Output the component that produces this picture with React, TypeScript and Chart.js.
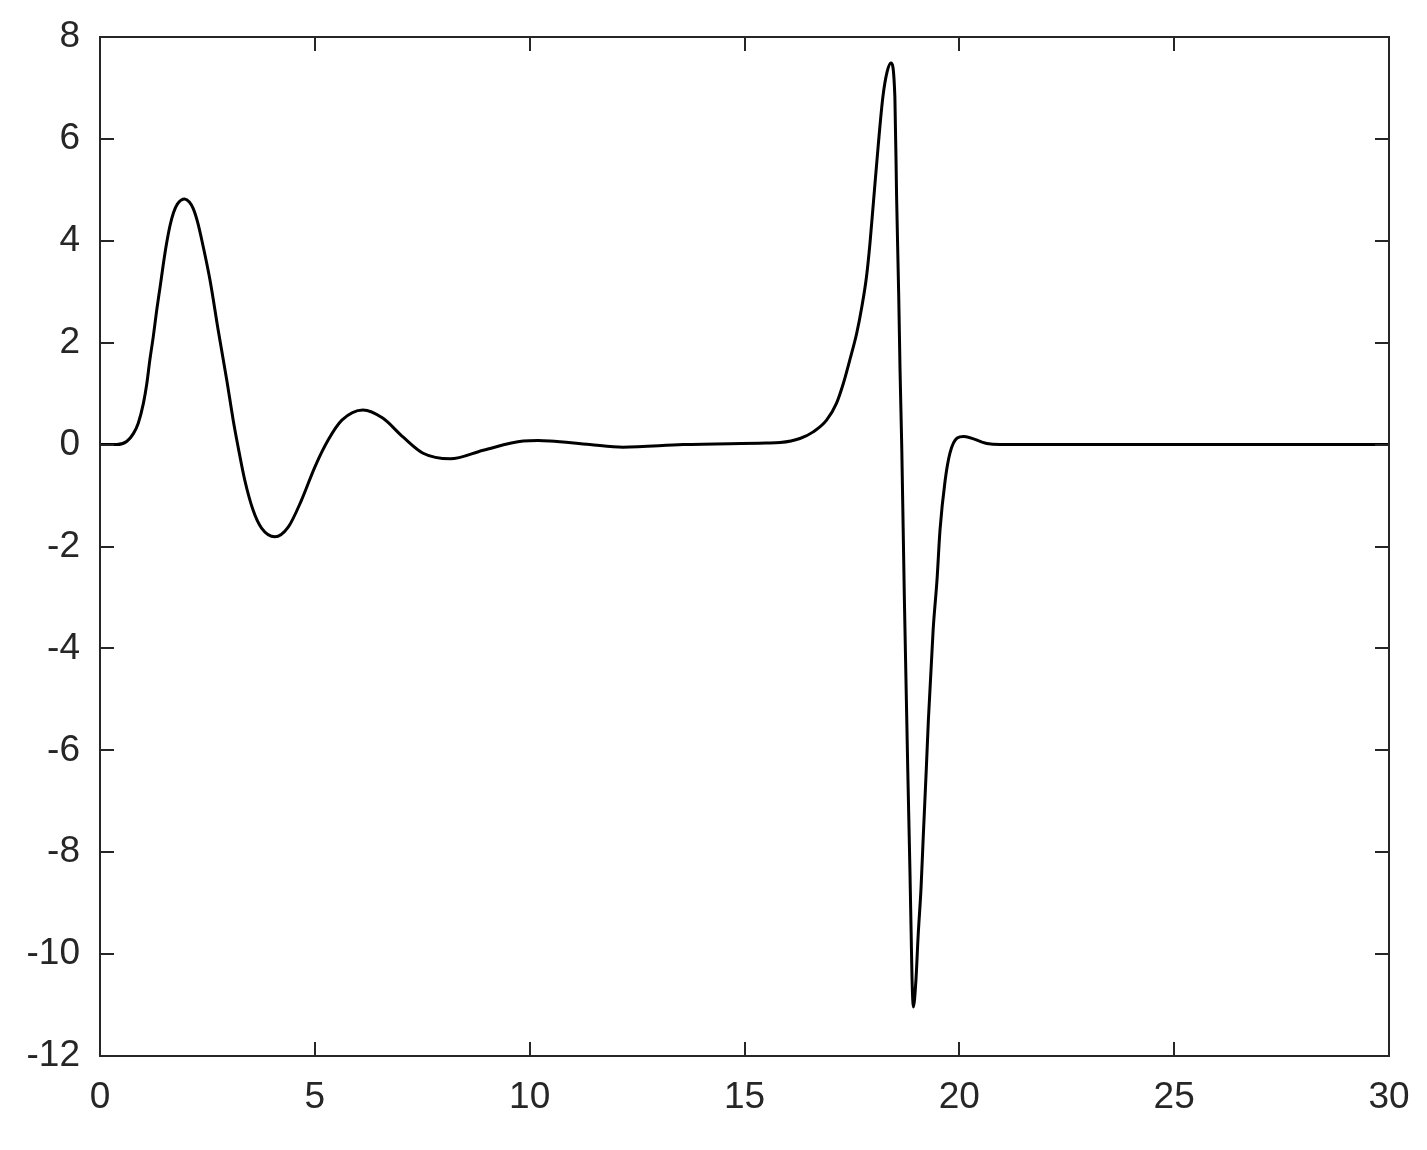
import { useEffect, useRef } from "react";
import { Chart, registerables } from "chart.js";

Chart.register(...registerables);

const xValues = [
  0, 0.39, 0.62, 0.78, 0.89, 1.01, 1.09, 1.16, 1.24, 1.32, 1.4, 1.47, 1.55, 1.63, 1.71, 1.8, 1.97, 2.08,
  2.17, 2.27, 2.37, 2.56, 2.75, 2.95, 3.1, 3.22, 3.37, 3.56, 3.76, 4.07, 4.38, 4.69, 5.0, 5.31, 5.63, 6.12,
  6.58, 7.05, 7.52, 8.15, 8.92, 9.85, 10.2, 10.47, 11.4, 12.17, 13.57, 15.5, 15.83, 16.29, 16.6, 16.91,
  17.14, 17.3, 17.45, 17.61, 17.73, 17.84, 17.92, 18.0, 18.11, 18.22, 18.32, 18.41, 18.5, 18.54, 18.59,
  18.62, 18.66, 18.72, 18.78, 18.8, 18.85, 18.88, 18.9, 18.93, 18.99, 19.04, 19.11, 19.16, 19.23, 19.28,
  19.39, 19.48, 19.55, 19.67, 19.78, 19.95, 20.1, 20.64, 20.95, 25, 30,
];

const yValues = [
  0, 0, 0.06, 0.22, 0.42, 0.81, 1.2, 1.66, 2.12, 2.64, 3.1, 3.52, 3.95, 4.3, 4.55, 4.72, 4.82, 4.76, 4.63,
  4.37, 4.01, 3.23, 2.25, 1.27, 0.48, -0.07, -0.7, -1.28, -1.64, -1.81, -1.62, -1.09, -0.44, 0.09, 0.48,
  0.68, 0.52, 0.15, -0.17, -0.28, -0.11, 0.07, 0.08, 0.07, 0.0, -0.05, 0.0, 0.03, 0.04, 0.12, 0.25, 0.48,
  0.81, 1.2, 1.66, 2.18, 2.7, 3.3, 3.95, 4.75, 5.85, 6.82, 7.32, 7.49, 6.82, 4.86, 2.89, 1.46, -0.05,
  -2.99, -5.54, -6.39, -8.35, -9.66, -10.51, -11.04, -10.51, -9.66, -8.68, -7.7, -6.39, -5.4, -3.64, -2.66,
  -1.68, -0.7, -0.17, 0.13, 0.16, 0.02, 0, 0, 0,
];

const xTicks = [0, 5, 10, 15, 20, 25, 30];
const yTicks = [-12, -10, -8, -6, -4, -2, 0, 2, 4, 6, 8];

const AXIS_COLOR = "#262626";
const FONT = { family: "'Liberation Sans', Arial, Helvetica, sans-serif", size: 37 };

const frameTicks = {
  id: "frameTicks",
  afterDatasetsDraw(chart: any) {
    const { ctx, chartArea: a, scales } = chart;
    const L = 14;
    ctx.save();
    ctx.strokeStyle = AXIS_COLOR;
    ctx.lineWidth = 2;
    ctx.beginPath();
    for (const v of xTicks) {
      const px = Math.round(scales.x.getPixelForValue(v));
      ctx.moveTo(px, a.bottom);
      ctx.lineTo(px, a.bottom - L);
      ctx.moveTo(px, a.top);
      ctx.lineTo(px, a.top + L);
    }
    for (const v of yTicks) {
      const py = Math.round(scales.y.getPixelForValue(v));
      ctx.moveTo(a.left, py);
      ctx.lineTo(a.left + L, py);
      ctx.moveTo(a.right, py);
      ctx.lineTo(a.right - L, py);
    }
    ctx.stroke();
    ctx.strokeRect(a.left, a.top, a.right - a.left, a.bottom - a.top);
    ctx.restore();
  },
};

export default function App() {
  const ref = useRef<HTMLCanvasElement | null>(null);

  useEffect(() => {
    if (!ref.current) return;
    const points = xValues.map((x, i) => ({ x, y: yValues[i] }));
    const chart = new Chart(ref.current, {
      type: "line",
      data: {
        datasets: [
          {
            data: points,
            borderColor: "#000000",
            borderWidth: 3,
            pointRadius: 0,
            fill: false,
            cubicInterpolationMode: "monotone",
          },
        ],
      },
      options: {
        responsive: false,
        animation: false,
        events: [],
        layout: { padding: { top: 37, right: 38, left: 0, bottom: 0 } },
        plugins: { legend: { display: false }, tooltip: { enabled: false } },
        scales: {
          x: {
            type: "linear",
            min: 0,
            max: 30,
            grid: { display: false, drawTicks: false },
            border: { display: false },
            ticks: { stepSize: 5, color: AXIS_COLOR, font: FONT, padding: 20, maxRotation: 0 },
            afterFit: (s: any) => {
              s.height = 94;
              s.paddingLeft = 0;
              s.paddingRight = 0;
            },
          },
          y: {
            type: "linear",
            min: -12,
            max: 8,
            grid: { display: false, drawTicks: false },
            border: { display: false },
            ticks: { stepSize: 2, color: AXIS_COLOR, font: FONT, padding: 20 },
            afterFit: (s: any) => {
              s.width = 100;
              s.paddingTop = 0;
              s.paddingBottom = 0;
            },
          },
        },
      },
      plugins: [frameTicks],
    });
    return () => chart.destroy();
  }, []);

  return (
    <div style={{ position: "absolute", left: 0, top: 0, width: 1427, height: 1150, background: "#fff" }}>
      <canvas ref={ref} width={1427} height={1150} style={{ display: "block" }} />
    </div>
  );
}
